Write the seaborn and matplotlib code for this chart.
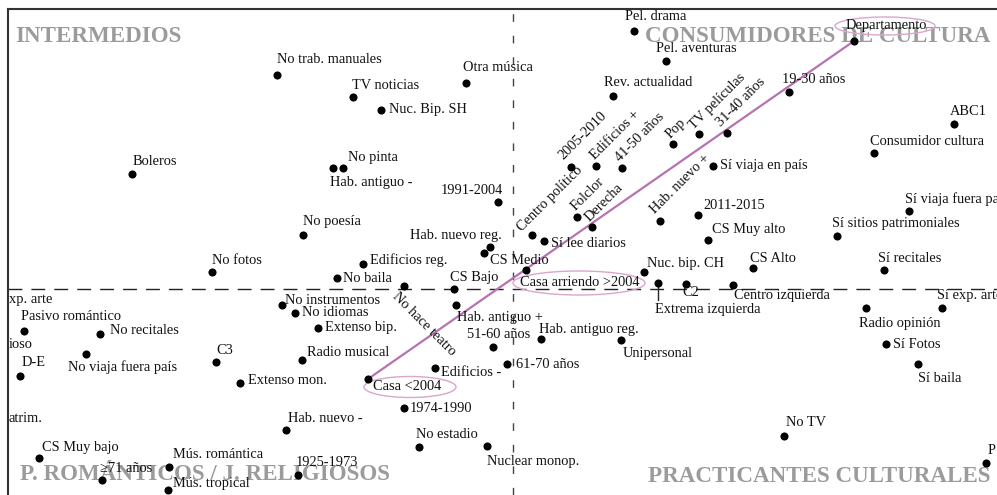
import numpy as np
import pandas as pd
import seaborn as sns
import matplotlib
matplotlib.use('Agg')
import matplotlib.pyplot as plt
from matplotlib.patches import Ellipse

labels = [
    'No trab. manuales', 'TV noticias', 'Nuc. Bip. SH', 'Otra música', 'Boleros',
    'No pinta', 'Hab. antiguo -', '1991-2004', 'No poesía', 'Hab. nuevo reg.',
    'CS Medio', 'Edificios reg.', 'No fotos', 'No baila',
    'Pel. drama', 'Pel. aventuras', 'Rev. actualidad', 'Departamento', '19-30 años',
    'ABC1', 'Consumidor cultura', 'Sí viaja en país', 'Sí viaja fuera país', '2011-2015',
    'CS Muy alto', 'Sí sitios patrimoniales', 'Sí lee diarios',
    '2005-2010', 'Edificios +', '41-50 años', 'Pop', 'TV películas', '31-40 años',
    'Centro político', 'Folclor', 'Derecha', 'Hab. nuevo +',
    'Nuc. bip. CH', 'Casa arriendo >2004', 'Extrema izquierda', 'C2', 'Centro izquierda',
    'CS Alto', 'Sí recitales', 'Radio opinión', 'Sí exp. arte', 'Sí Fotos', 'Sí baila',
    'No TV', 'P',
    'CS Bajo', 'No hace teatro', 'Hab. antiguo +', '51-60 años', 'Hab. antiguo reg.',
    'Unipersonal', '61-70 años', 'Edificios -', 'Casa <2004', '1974-1990',
    'No estadio', 'Nuclear monop.',
    'No instrumentos', 'No idiomas', 'Extenso bip.', 'Radio musical', 'Hab. nuevo -',
    '1925-1973', 'C3', 'Extenso mon.', 'No recitales', 'No viaja fuera país',
    'Pasivo romántico', 'D-E', 'CS Muy bajo', '≥71 años', 'Mús. romántica', 'Mús. tropical',
]
dim1 = [
    -2.36, -1.60, -1.32, -0.47, -3.81,
    -1.70, -1.80, -0.15, -2.10, -0.23,
    -0.29, -1.50, -3.01, -1.76,
    1.21, 1.53, 1.00, 3.41, 2.76,
    4.41, 3.61, 2.00, 3.96, 1.85,
    1.95, 3.24, 0.31,
    0.58, 0.83, 1.09, 1.60, 1.86, 2.14,
    0.19, 0.64, 0.79, 1.47,
    1.31, 0.13, 1.45, 1.73, 2.20,
    2.40, 3.71, 3.53, 4.29, 3.73, 4.05,
    2.71, 4.73,
    -0.59, -1.09, -0.57, -0.20, 0.28,
    1.08, -0.06, -0.78, -1.45, -1.09,
    -0.94, -0.26,
    -2.31, -2.18, -1.95, -2.11, -2.27,
    -2.15, -2.97, -2.73, -4.13, -4.27,
    -4.89, -4.93, -4.74, -4.11, -3.44, -3.45,
]
dim2 = [
    2.14, 1.92, 1.79, 2.06, 1.15,
    1.21, 1.21, 0.87, 0.54, 0.42,
    0.36, 0.25, 0.17, 0.11,
    2.58, 2.28, 1.93, 2.48, 1.97,
    1.65, 1.36, 1.23, 0.78, 0.74,
    0.49, 0.53, 0.48,
    1.22, 1.23, 1.21, 1.45, 1.55, 1.56,
    0.54, 0.72, 0.62, 0.68,
    0.17, 0.19, 0.06, 0.05, 0.04,
    0.21, 0.19, -0.19, -0.19, -0.55, -0.75,
    -1.47, -1.74,
    0.00, 0.03, -0.16, -0.58, -0.50,
    -0.51, -0.75, -0.79, -0.90, -1.19,
    -1.58, -1.57,
    -0.16, -0.24, -0.39, -0.71, -1.41,
    -1.86, -0.73, -0.94, -0.45, -0.65,
    -0.42, -0.87, -1.69, -1.91, -1.78, -2.01,
]

quadrant_titles = ['INTERMEDIOS', 'CONSUMIDORES DE CULTURA',
                   'P. ROMÁNTICOS / J. RELIGIOSOS', 'PRACTICANTES CULTURALES']
# etiquetas cortadas por el borde izquierdo
edge_labels = ['xp. arte', 'ioso', 'atrim.']
edge_dim2 = [-0.11, -0.56, -1.29]

# posicion de cada etiqueta: desplazamiento en pixeles (dx, dy), alineacion, rotacion
place = {
    'No trab. manuales': (0, 15), 'TV noticias': (-1, 11), 'Nuc. Bip. SH': (8, 0),
    'Otra música': (-3, 15), 'Boleros': (1, 12), 'No pinta': (5, 10),
    'Hab. antiguo -': (-3, -15), '1991-2004': (5, 11, 'right'), 'No poesía': (0, 13),
    'Hab. nuevo reg.': (12, 12, 'right'), 'CS Medio': (6, -8), 'Edificios reg.': (7, 4),
    'No fotos': (0, 11), 'No baila': (6, 0),
    'Pel. drama': (-9, 14), 'Pel. aventuras': (-10, 13), 'Rev. actualidad': (-9, 13),
    'Departamento': (-8, 15), '19-30 años': (-7, 12), 'ABC1': (-4, 12),
    'Consumidor cultura': (-4, 11), 'Sí viaja en país': (7, 0),
    'Sí viaja fuera país': (-4, 12), '2011-2015': (5, 9), 'CS Muy alto': (4, 10),
    'Sí sitios patrimoniales': (-5, 12), 'Sí lee diarios': (7, -3),
    '2005-2010': (-8, 7, 'left', 45), 'Edificios +': (-1, 6, 'left', 45),
    '41-50 años': (-2, 6, 'left', 45), 'Pop': (-3, 5, 'left', 45),
    'TV películas': (-5, 4, 'left', 45), '31-40 años': (-6, 6, 'left', 45),
    'Centro político': (-10, 3, 'left', 45), 'Folclor': (-1, 6, 'left', 45),
    'Derecha': (-2, 5, 'left', 45), 'Hab. nuevo +': (-5, 7, 'left', 45),
    'Nuc. bip. CH': (3, 9), 'Casa arriendo >2004': (-6, -12),
    'Extrema izquierda': (-3, -27), 'C2': (-4, -9), 'Centro izquierda': (1, -10),
    'CS Alto': (-3, 10), 'Sí recitales': (-6, 11), 'Radio opinión': (-7, -15),
    'Sí exp. arte': (-5, 12), 'Sí Fotos': (7, 0), 'Sí baila': (0, -14),
    'No TV': (2, 13), 'P': (2, 12),
    'CS Bajo': (-4, 11), 'No hace teatro': (-5, -4, 'left', -45),
    'Hab. antiguo +': (1, -13), '51-60 años': (-26, 12), 'Hab. antiguo reg.': (-2, 9),
    'Unipersonal': (2, -13), '61-70 años': (9, -1), 'Edificios -': (6, -5),
    'Casa <2004': (5, -8), '1974-1990': (6, 0), 'No estadio': (-3, 12),
    'Nuclear monop.': (0, -16),
    'No instrumentos': (3, 5), 'No idiomas': (7, 0), 'Extenso bip.': (7, 0),
    'Radio musical': (5, 8), 'Hab. nuevo -': (2, 12), '1925-1973': (-2, 13),
    'C3': (0, 11), 'Extenso mon.': (8, 3), 'No recitales': (10, 3),
    'No viaja fuera país': (-18, -13), 'Pasivo romántico': (-3, 15), 'D-E': (2, 14),
    'CS Muy bajo': (3, 11), '≥71 años': (-2, 12), 'Mús. romántica': (4, 12),
    'Mús. tropical': (5, 7),
}

sns.set_style('white')
plt.rcParams['font.family'] = ['Liberation Serif', 'DejaVu Serif']

df = pd.DataFrame({'label': labels, 'dim1': dim1, 'dim2': dim2})

fig = plt.figure(figsize=(9.97, 4.95), dpi=100)
ax = fig.add_axes([8 / 997, 0, 989 / 997, 486 / 495])

sns.scatterplot(data=df, x='dim1', y='dim2', color='black', s=34,
                linewidth=0, ax=ax, zorder=4)
ax.set_xlim(-5.05, 4.84)
ax.set_ylim(-2.06, 2.80)
ax.set_xticks([]); ax.set_yticks([])
ax.set_xlabel(''); ax.set_ylabel('')
for s in ['right', 'bottom']:
    ax.spines[s].set_visible(False)
for s in ['left', 'top']:
    ax.spines[s].set_color('#333333')
    ax.spines[s].set_linewidth(1.5)

# ejes del plano factorial
ax.axhline(0, color='#222222', lw=1.0, dashes=(10, 6.5), zorder=2)
ax.axvline(0, color='#444444', lw=1.0, dashes=(5.5, 10), zorder=2)

# titulos de cuadrantes
gray = '#9b9b9b'
qx = [-4.98, 1.32, -4.93, 1.35]
qy = [2.52, 2.52, -1.86, -1.88]
for t, x, y in zip(quadrant_titles, qx, qy):
    ax.text(x, y, t, fontsize=16.6, fontweight='bold', color=gray,
            ha='left', va='center', zorder=1)

# linea entre Casa <2004 y Departamento
pts = df.set_index('label')
a, b = pts.loc['Casa <2004'], pts.loc['Departamento']
ax.plot([a.dim1, b.dim1], [a.dim2, b.dim2], color='#b573b0', lw=1.6, zorder=3)

# linea guia Extrema izquierda
e = pts.loc['Extrema izquierda']
ax.plot([e.dim1, e.dim1], [e.dim2, e.dim2 - 0.17], color='#222222', lw=1.0, zorder=3)

# elipses
ell_color = '#d9a6cf'
for cx, cy, w, h in [(3.72, 2.63, 1.00, 0.18), (0.66, 0.06, 1.32, 0.24),
                     (-1.03, -0.98, 0.92, 0.21)]:
    ax.add_patch(Ellipse((cx, cy), w, h, fill=False, ec=ell_color, lw=1.0, zorder=3))

# etiquetas
for lab, x, y in zip(labels, dim1, dim2):
    p = place[lab]
    dx, dy = p[0], p[1]
    ha = p[2] if len(p) > 2 else 'left'
    rot = p[3] if len(p) > 3 else 0
    if rot == 0:
        ax.annotate(lab, (x, y), xytext=(dx, dy), textcoords='offset pixels',
                    ha=ha, va='center', fontsize=10.4, color='#111111', zorder=5)
    else:
        ax.annotate(lab, (x, y), xytext=(dx, dy), textcoords='offset pixels',
                    ha='left', va='baseline' if rot > 0 else 'top',
                    rotation=rot, rotation_mode='anchor',
                    fontsize=10.4, color='#111111', zorder=5)

for t, y in zip(edge_labels, edge_dim2):
    ax.text(-5.04, y, t, ha='left', va='center', fontsize=10.4, color='#111111', zorder=5)

fig.savefig('out.png', dpi=100)
